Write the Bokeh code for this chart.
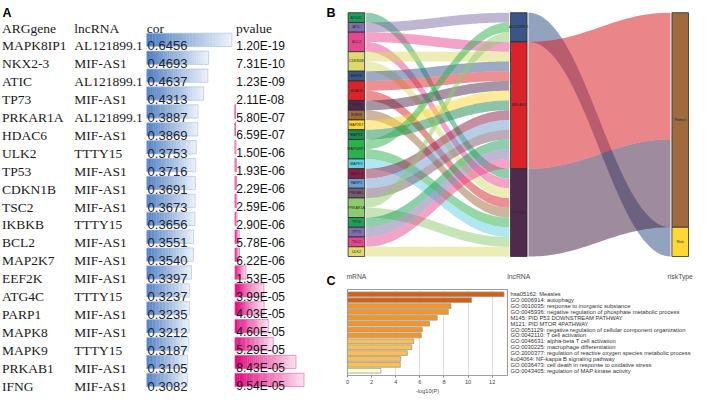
import numpy as np
from bokeh.plotting import figure
from bokeh.models import Range1d, FactorRange, FixedTicker
from bokeh.layouts import row, column
from bokeh.embed import file_html
from bokeh.resources import INLINE
from bokeh.core.properties import value

# ---------------- Panel A data ----------------
header = ["ARGgene", "lncRNA", "cor", "pvalue"]
arg_genes = ["MAPK8IP1", "NKX2-3", "ATIC", "TP73", "PRKAR1A", "HDAC6", "ULK2", "TP53",
             "CDKN1B", "TSC2", "IKBKB", "BCL2", "MAP2K7", "EEF2K", "ATG4C", "PARP1",
             "MAPK8", "MAPK9", "PRKAB1", "IFNG"]
lnc_of_gene = ["AL121899.1", "MIF-AS1", "AL121899.1", "MIF-AS1", "AL121899.1", "MIF-AS1",
               "TTTY15", "MIF-AS1", "MIF-AS1", "MIF-AS1", "TTTY15", "MIF-AS1", "MIF-AS1",
               "MIF-AS1", "TTTY15", "MIF-AS1", "MIF-AS1", "TTTY15", "MIF-AS1", "MIF-AS1"]
cor_values = [0.6456, 0.4693, 0.4637, 0.4313, 0.3887, 0.3869, 0.3753, 0.3716, 0.3691, 0.3673,
              0.3656, 0.3551, 0.3540, 0.3397, 0.3237, 0.3235, 0.3212, 0.3187, 0.3105, 0.3082]
pvalue_labels = ["1.20E-19", "7.31E-10", "1.23E-09", "2.11E-08", "5.80E-07", "6.59E-07",
                 "1.50E-06", "1.93E-06", "2.29E-06", "2.59E-06", "2.90E-06", "5.78E-06",
                 "6.22E-06", "1.53E-05", "3.99E-05", "4.03E-05", "4.60E-05", "5.29E-05",
                 "8.43E-05", "9.54E-05"]
pvalues = [float(s) for s in pvalue_labels]

# ---------------- Panel B data (alluvial) ----------------
extra_link_genes = ["BCL2", "CDKN1B", "HDAC6", "MAPK8IP1", "PRKAR1A"]
extra_link_lnc = ["TTTY15", "TTTY15", "TTTY15", "TTTY15", "TTTY15"]
lnc_levels = ["AL121899.1", "MIF-AS1", "TTTY15"]
lnc_risk = ["Risk", "Protect", "Protect"]
risk_levels = ["Protect", "Risk"]
axis_titles = ["mRNA", "lncRNA", "riskType"]
palette16 = ["#1F9E5A", "#7F6EA8", "#E5478F", "#DDD96C", "#3A5588", "#D8232A", "#4E2B4D",
             "#9F6B3D", "#FDD835", "#1B8A50", "#2EAF4E", "#63CFE3", "#8A1F45", "#6F9CCF",
             "#7A5A72", "#8ECB6F"]

# ---------------- Panel C data ----------------
terms = ["hsa05162: Measles",
         "GO:0006914: autophagy",
         "GO:0010035: response to inorganic substance",
         "GO:0045936: negative regulation of phosphate metabolic process",
         "M145: PID P53 DOWNSTREAM PATHWAY",
         "M121: PID MTOR 4PATHWAY",
         "GO:0051129: negative regulation of cellular component organization",
         "GO:0042110: T cell activation",
         "GO:0046631: alpha-beta T cell activation",
         "GO:0030225: macrophage differentiation",
         "GO:2000377: regulation of reactive oxygen species metabolic process",
         "ko04064: NF-kappa B signaling pathway",
         "GO:0036473: cell death in response to oxidative stress",
         "GO:0043405: regulation of MAP kinase activity"]
neglogp = [12.98, 10.29, 8.58, 8.36, 7.44, 6.81, 6.20, 6.12, 5.49, 5.33, 4.96, 4.41, 4.38, 2.77]
x_ticks = [0, 2, 4, 6, 8, 10, 12]

SANS = value("Liberation Sans")
SERIF = value("Liberation Serif")


def clean(p):
    p.xaxis.visible = False
    p.yaxis.visible = False
    p.xgrid.visible = False
    p.ygrid.visible = False
    p.outline_line_color = None
    p.background_fill_color = "white"
    p.border_fill_color = "white"


def lerp_hex(c0, c1, t):
    a = [int(c0[i:i + 2], 16) for i in (1, 3, 5)]
    b = [int(c1[i:i + 2], 16) for i in (1, 3, 5)]
    return "#%02x%02x%02x" % tuple(int(round(a[k] + (b[k] - a[k]) * t)) for k in range(3))


# ================= Panel A : table =================
ROW0, ROWH = 47.3, 18.62          # reference-pixel baseline of first row, row pitch
figA = figure(width=323, height=396, x_range=Range1d(0, 330),
              y_range=Range1d((412 - ROW0) / ROWH, (0 - ROW0) / ROWH),
              output_backend="svg", toolbar_location=None, min_border=0)
clean(figA)

rows = list(range(len(arg_genes)))
COL_X = [1.5, 75.3, 149.5, 240.5]
COR_X0, COR_SCALE = 149.3, 135.0
P_X0, P_SCALE = 239.5, 7.4e5
BAR_TOP, BAR_BOT = -13.3 / ROWH, 0.6 / ROWH


def gradient_bars(fig, x0, lengths, rws, c0, c1, border, N=30):
    L, R, T, B, C = [], [], [], [], []
    bl, br, bt, bb = [], [], [], []
    for ln, r in zip(lengths, rws):
        if ln < 0.3:
            continue
        for k in range(N):
            L.append(x0 + ln * k / N)
            R.append(min(x0 + ln * (k + 1) / N + 0.3, x0 + ln))
            T.append(r + BAR_TOP)
            B.append(r + BAR_BOT)
            C.append(lerp_hex(c0, c1, (k + 0.5) / N))
        bl.append(x0); br.append(x0 + ln); bt.append(r + BAR_TOP); bb.append(r + BAR_BOT)
    fig.quad(left=L, right=R, top=T, bottom=B, fill_color=C, line_color=None)
    fig.quad(left=bl, right=br, top=bt, bottom=bb, fill_color=None,
             line_color=border, line_width=0.9, line_alpha=0.7)


gradient_bars(figA, COR_X0, [v * COR_SCALE for v in cor_values], rows,
              "#4F7FC2", "#EEF3FA", "#A9C0E3")
gradient_bars(figA, P_X0, [v * P_SCALE for v in pvalues], rows,
              "#E0067F", "#FCE4F0", "#E860A6")

figA.text(x=COL_X, y=[-1] * 4, text=header, text_font=SERIF, text_font_size="13.5px",
          text_baseline="alphabetic", text_color="#1a1a1a")
figA.text(x=[COL_X[0]] * len(rows), y=rows, text=arg_genes, text_font=SERIF,
          text_font_size="13.5px", text_baseline="alphabetic", text_color="#1a1a1a")
figA.text(x=[COL_X[1]] * len(rows), y=rows, text=lnc_of_gene, text_font=SERIF,
          text_font_size="13.5px", text_baseline="alphabetic", text_color="#1a1a1a")
figA.text(x=[COL_X[2] + 0.8] * len(rows), y=rows, text=["%.4f" % v for v in cor_values],
          text_font=SANS, text_font_size="13px", text_baseline="alphabetic",
          text_color="#1d2433")
figA.text(x=[COL_X[3] + 0.4] * len(rows), y=rows, text=pvalue_labels,
          text_font=SANS, text_font_size="12px", text_baseline="alphabetic",
          text_color="#111111")
figA.text(x=[2], y=[(13.2 - ROW0) / ROWH], text=["A"], text_font=SANS,
          text_font_style="bold", text_font_size="12.5px", text_baseline="alphabetic",
          text_color="black")

# ================= Panel B : alluvial =================
figB = figure(width=370, height=288, x_range=Range1d(330, 709), y_range=Range1d(300, 0),
              output_backend="svg", toolbar_location=None, min_border=0)
clean(figB)

link_genes = arg_genes + extra_link_genes
link_lnc = lnc_of_gene + extra_link_lnc
gene_levels = sorted(set(link_genes))
n_links = len(link_genes)
Y_TOP, Y_BOT = 12.7, 266.7
U = (Y_BOT - Y_TOP) / n_links
AX = [363.7, 530.0, 695.4]
BW = 17.0

gene_col = {g: palette16[i % 16] for i, g in enumerate(gene_levels)}
lnc_col = {l: palette16[(len(gene_levels) + i) % 16] for i, l in enumerate(lnc_levels)}
risk_col = {r: palette16[(len(gene_levels) + len(lnc_levels) + i) % 16]
            for i, r in enumerate(risk_levels)}
risk_of = dict(zip(lnc_levels, lnc_risk))


def strata(levels, items):
    tops, y = {}, Y_TOP
    for lv in levels:
        c = items.count(lv)
        tops[lv] = (y, y + c * U)
        y += c * U
    return tops


g_str = strata(gene_levels, link_genes)
l_str = strata(lnc_levels, link_lnc)
link_risk = [risk_of[l] for l in link_lnc]
r_str = strata(risk_levels, link_risk)

idx = list(range(n_links))
left_pos = {}
for g in gene_levels:
    members = sorted([i for i in idx if link_genes[i] == g],
                     key=lambda i: lnc_levels.index(link_lnc[i]))
    for j, i in enumerate(members):
        left_pos[i] = g_str[g][0] + j * U
mid_pos = {}
for l in lnc_levels:
    members = sorted([i for i in idx if link_lnc[i] == l],
                     key=lambda i: gene_levels.index(link_genes[i]))
    for j, i in enumerate(members):
        mid_pos[i] = l_str[l][0] + j * U


def ribbon(xa, ya0, ya1, xb, yb0, yb1, k=0.4, n=60):
    t = np.linspace(0, 1, n)
    dx = xb - xa
    bx = ((1 - t) ** 3) * xa + 3 * ((1 - t) ** 2) * t * (xa + k * dx) \
        + 3 * (1 - t) * t ** 2 * (xb - k * dx) + t ** 3 * xb
    s = 3 * t ** 2 - 2 * t ** 3
    top = ya0 + (yb0 - ya0) * s
    bot = ya1 + (yb1 - ya1) * s
    return list(np.concatenate([bx, bx[::-1]])), list(np.concatenate([top, bot[::-1]]))


GAP = 1.5
xs, ys, cs = [], [], []
order = sorted(idx, key=lambda i: (gene_levels.index(link_genes[i]), left_pos[i]))
for i in order:
    x_, y_ = ribbon(AX[0] + BW / 2 + GAP, left_pos[i], left_pos[i] + U,
                    AX[1] - BW / 2 - GAP, mid_pos[i], mid_pos[i] + U)
    xs.append(x_); ys.append(y_); cs.append(gene_col[link_genes[i]])
figB.patches(xs, ys, fill_color=cs, fill_alpha=0.5, line_color=None)

xs, ys, cs = [], [], []
r_fill = {r: r_str[r][0] for r in risk_levels}
for l in lnc_levels:
    r = risk_of[l]
    h = l_str[l][1] - l_str[l][0]
    x_, y_ = ribbon(AX[1] + BW / 2 + GAP, l_str[l][0], l_str[l][1],
                    AX[2] - BW / 2 - GAP, r_fill[r], r_fill[r] + h)
    r_fill[r] += h
    xs.append(x_); ys.append(y_); cs.append(lnc_col[l])
figB.patches(xs, ys, fill_color=cs, fill_alpha=0.55, line_color=None)

for ax_i, (levels, st, cols) in enumerate([(gene_levels, g_str, gene_col),
                                           (lnc_levels, l_str, lnc_col),
                                           (risk_levels, r_str, risk_col)]):
    figB.quad(left=[AX[ax_i] - BW / 2] * len(levels), right=[AX[ax_i] + BW / 2] * len(levels),
              top=[st[lv][0] for lv in levels], bottom=[st[lv][1] for lv in levels],
              fill_color=[cols[lv] for lv in levels], line_color="#2b2b2b", line_width=0.8)
    figB.text(x=[AX[ax_i]] * len(levels), y=[(st[lv][0] + st[lv][1]) / 2 for lv in levels],
              text=levels, text_font=SANS, text_font_size="3.6px", text_align="center",
              text_baseline="middle", text_color="#222222")

figB.text(x=AX, y=[288] * 3, text=axis_titles, text_font=SANS, text_font_size="6.8px",
          text_align="center", text_baseline="alphabetic", text_color="#4d4d4d")
figB.text(x=[333], y=[13.2], text=["B"], text_font=SANS, text_font_style="bold",
          text_font_size="12.5px", text_baseline="alphabetic", text_color="black")
figB.text(x=[333], y=[299.2], text=["C"], text_font=SANS, text_font_style="bold",
          text_font_size="12.5px", text_baseline="bottom", text_color="black")

# ================= Panel C : enrichment bars =================


def bin_color(v):
    if v >= 10:
        return "#D5600F"
    if v >= 6:
        return "#F8951F"
    if v >= 3:
        return "#FDC04E"
    return "#FFFBCF"


figC = figure(width=370, height=108, x_range=Range1d(0, 13.27),
              y_range=FactorRange(factors=terms[::-1], range_padding=0.045),
              y_axis_location="right", output_backend="svg", toolbar_location=None,
              min_border_left=24, min_border_right=182, min_border_top=1,
              min_border_bottom=16)
figC.background_fill_color = "white"
figC.border_fill_color = "white"
figC.outline_line_color = "#a0a0a0"
figC.outline_line_width = 1.2
figC.hbar(y=terms, left=0, right=neglogp, height=0.8,
          fill_color=[bin_color(v) for v in neglogp], line_color="#9c9c9c", line_width=0.8)
figC.ygrid.visible = False
figC.xgrid.ticker = FixedTicker(ticks=x_ticks)
figC.xgrid.grid_line_color = "#dedede"
figC.xaxis.ticker = FixedTicker(ticks=x_ticks)
figC.xaxis.axis_label = "-log10(P)"
figC.xaxis.axis_label_text_font = "Liberation Sans"
figC.xaxis.axis_label_text_font_style = "normal"
figC.xaxis.axis_label_text_font_size = "5.6px"
figC.xaxis.axis_label_text_color = "#444444"
figC.xaxis.axis_label_standoff = 1
figC.xaxis.major_label_text_font = "Liberation Sans"
figC.xaxis.major_label_text_font_size = "5.6px"
figC.xaxis.major_label_text_color = "#444444"
figC.xaxis.major_label_standoff = 2
figC.xaxis.axis_line_color = None
figC.xaxis.major_tick_line_color = "#888888"
figC.xaxis.major_tick_in = 0
figC.xaxis.major_tick_out = 2
figC.xaxis.minor_tick_line_color = None
figC.yaxis.axis_line_color = None
figC.yaxis.major_tick_line_color = None
figC.yaxis.minor_tick_line_color = None
figC.yaxis.major_tick_in = 0
figC.yaxis.major_tick_out = 0
figC.yaxis.major_label_standoff = 3
figC.yaxis.major_label_text_font = "Liberation Sans"
figC.yaxis.major_label_text_font_size = "5.8px"
figC.yaxis.major_label_text_color = "#333333"

for f in (figA, figB, figC):
    f.frame_align = False

layout = row(figA, column(figB, figC))
open("out.html", "w").write(file_html(layout, INLINE))
